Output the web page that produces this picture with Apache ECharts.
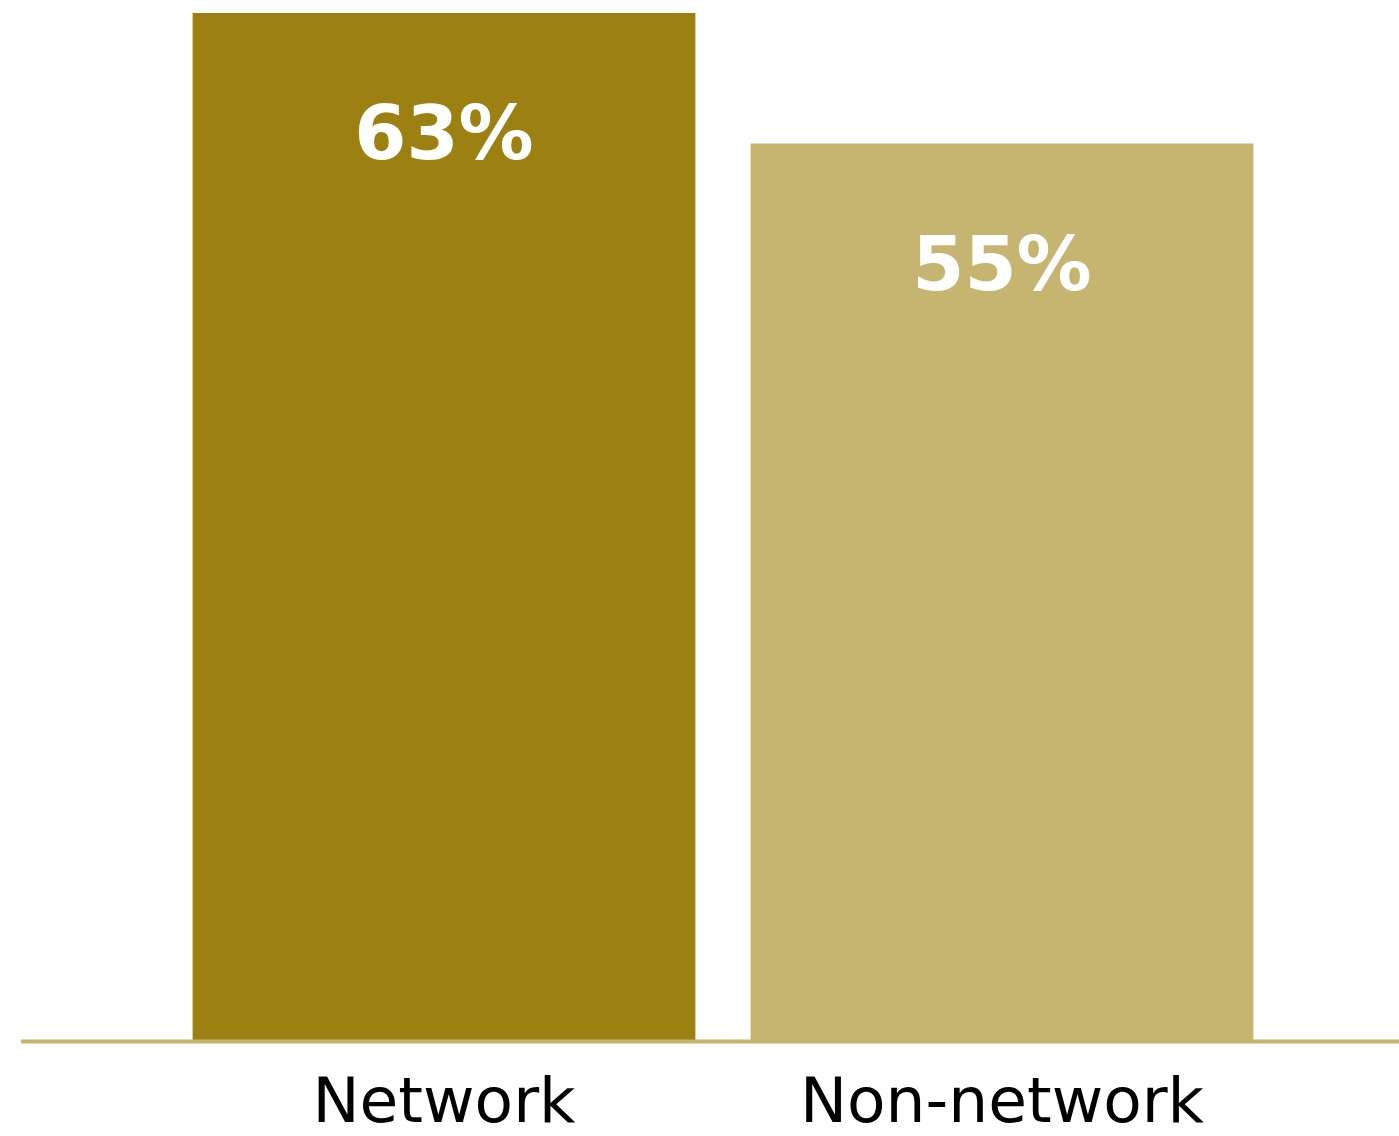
<!DOCTYPE html>
<html>
<head>
<meta charset="utf-8">
<script src="https://cdn.jsdelivr.net/npm/echarts@6/dist/echarts.min.js"></script>
<style>
  html, body { margin: 0; padding: 0; background: #fff; }
  #chart { width: 1399px; height: 1136px; }
</style>
</head>
<body>
<div id="chart"></div>
<script>
// 数据
var categories = ["Network", "Non-network"];
var values = [63, 55];
var barColors = ["#9C8112", "#C6B570"];

var myChart = echarts.init(document.getElementById("chart"));

var barData = values.map(function(v, i) {
    return { value: v, itemStyle: { color: barColors[i] } };
});

myChart.setOption({
    animation: false,
    grid: { left: 165, right: 118, top: 13, bottom: 95, outerBoundsMode: "none" },
    xAxis: {
        type: "category",
        data: categories,
        axisLine: { show: false },
        axisTick: { show: false },
        axisLabel: {
            color: "#000",
            fontFamily: "DejaVu Sans",
            fontSize: 63,
            margin: 33
        }
    },
    yAxis: {
        type: "value",
        min: 0,
        max: 63,
        show: false
    },
    // 底部的横线，比网格更宽
    graphic: [{
        type: "line",
        z: 100,
        shape: { x1: 21, y1: 1041.5, x2: 1399, y2: 1041.5 },
        style: { stroke: "#C4B46C", lineWidth: 4 }
    }],
    series: [{
        type: "bar",
        data: barData,
        barCategoryGap: "9.9%",
        label: {
            show: true,
            position: "insideTop",
            distance: 89,
            formatter: "{c}%",
            color: "#fff",
            fontFamily: "DejaVu Sans",
            fontWeight: "bold",
            fontSize: 75
        }
    }]
});
</script>
</body>
</html>
